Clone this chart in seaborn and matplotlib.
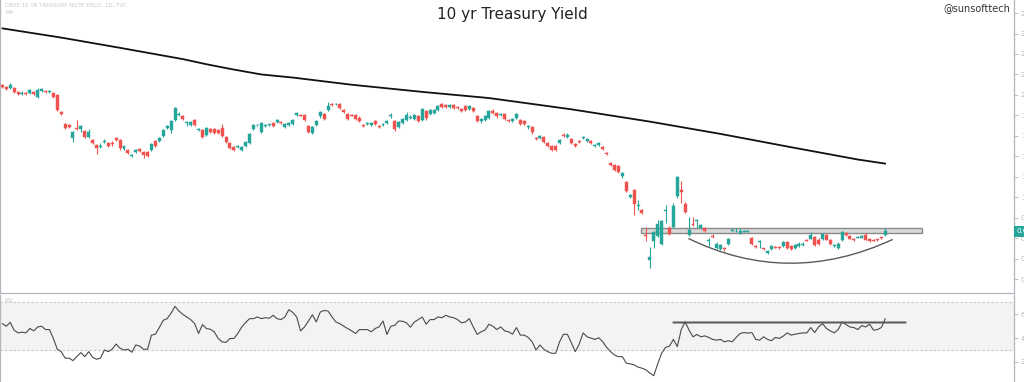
import numpy as np
import pandas as pd
import matplotlib
matplotlib.use("Agg")
import matplotlib.pyplot as plt
import seaborn as sns
from matplotlib.patches import Rectangle, PathPatch
from matplotlib.path import Path

# ---------------- data ----------------
opens = [2.10, 2.08, 2.07, 2.07, 2.03, 2.01, 2.02, 2.02, 2.03, 1.98,
         2.04, 2.04, 2.03, 2.02, 2.00, 1.83, 1.72, 1.71, 1.58, 1.68,
         1.67, 1.65, 1.59, 1.56, 1.51, 1.49, 1.545, 1.53, 1.53, 1.58,
         1.56, 1.47, 1.46, 1.40, 1.44, 1.47, 1.44, 1.44, 1.46, 1.55,
         1.55, 1.60, 1.68, 1.66, 1.76, 1.80, 1.79, 1.73, 1.71, 1.76,
         1.66, 1.66, 1.61, 1.67, 1.67, 1.66, 1.68, 1.59, 1.53, 1.49,
         1.49, 1.46, 1.50, 1.53, 1.67, 1.705, 1.64, 1.70, 1.71, 1.73,
         1.74, 1.74, 1.69, 1.71, 1.72, 1.80, 1.805, 1.80, 1.70, 1.63,
         1.71, 1.79, 1.81, 1.85, 1.91, 1.91, 1.91, 1.85, 1.81, 1.805,
         1.80, 1.78, 1.71, 1.72, 1.71, 1.75, 1.70, 1.71, 1.73, 1.795,
         1.75, 1.69, 1.73, 1.76, 1.78, 1.77, 1.79, 1.76, 1.84, 1.81,
         1.82, 1.85, 1.91, 1.90, 1.88, 1.90, 1.88, 1.86, 1.89, 1.86,
         1.87, 1.79, 1.75, 1.76, 1.78, 1.84, 1.82, 1.80, 1.81, 1.76,
         1.75, 1.78, 1.76, 1.75, 1.69, 1.69, 1.58, 1.58, 1.59, 1.53,
         1.50, 1.50, 1.53, 1.61, 1.59, 1.57, 1.52, 1.55, 1.58, 1.55,
         1.55, 1.50, 1.51, 1.49, 1.43, 1.34, 1.32, 1.31, 1.21, 1.15,
         1.00, 1.07, 0.92, 0.88, 0.635, 0.39, 0.57, 0.62, 0.55, 0.87,
         0.70, 0.71, 1.01, 1.07, 0.94, 0.63, 0.74, 0.77, 0.70, 0.70,
         0.57, 0.62, 0.51, 0.50, 0.505, 0.55, 0.675, 0.67, 0.65, 0.665,
         0.665, 0.60, 0.53, 0.56, 0.505, 0.455, 0.50, 0.52, 0.52, 0.53,
         0.56, 0.53, 0.51, 0.53, 0.535, 0.585, 0.595, 0.61, 0.58, 0.595,
         0.63, 0.58, 0.53, 0.51, 0.585, 0.65, 0.62, 0.59, 0.605, 0.605,
         0.63, 0.595, 0.585, 0.59, 0.61, 0.63]

closes = [2.08, 2.06, 2.10, 2.03, 2.01, 2.02, 2.01, 2.05, 2.01, 2.05,
          2.06, 2.03, 2.04, 1.98, 1.85, 1.81, 1.68, 1.69, 1.64, 1.67,
          1.70, 1.59, 1.64, 1.53, 1.48, 1.50, 1.55, 1.50, 1.52, 1.56,
          1.48, 1.50, 1.43, 1.41, 1.46, 1.45, 1.41, 1.40, 1.52, 1.50,
          1.58, 1.66, 1.70, 1.75, 1.87, 1.81, 1.77, 1.74, 1.74, 1.71,
          1.67, 1.59, 1.68, 1.64, 1.63, 1.63, 1.60, 1.54, 1.48, 1.46,
          1.50, 1.49, 1.54, 1.62, 1.71, 1.71, 1.73, 1.71, 1.715, 1.70,
          1.76, 1.73, 1.72, 1.73, 1.76, 1.82, 1.795, 1.76, 1.64, 1.69,
          1.75, 1.83, 1.77, 1.89, 1.90, 1.915, 1.87, 1.83, 1.77, 1.795,
          1.77, 1.75, 1.70, 1.73, 1.73, 1.72, 1.69, 1.72, 1.75, 1.80,
          1.67, 1.74, 1.77, 1.80, 1.785, 1.80, 1.75, 1.86, 1.78, 1.85,
          1.85, 1.89, 1.88, 1.88, 1.90, 1.87, 1.87, 1.84, 1.85, 1.89,
          1.84, 1.75, 1.77, 1.79, 1.84, 1.82, 1.79, 1.81, 1.77, 1.75,
          1.77, 1.81, 1.72, 1.72, 1.695, 1.64, 1.57, 1.60, 1.54, 1.50,
          1.46, 1.46, 1.56, 1.60, 1.61, 1.53, 1.50, 1.54, 1.59, 1.57,
          1.53, 1.51, 1.53, 1.47, 1.42, 1.32, 1.27, 1.25, 1.24, 1.06,
          1.02, 0.94, 0.93, 0.85, 0.625, 0.42, 0.66, 0.74, 0.77, 0.88,
          0.64, 0.92, 1.20, 1.05, 0.86, 0.68, 0.735, 0.78, 0.73, 0.67,
          0.585, 0.61, 0.55, 0.54, 0.495, 0.59, 0.68, 0.675, 0.67, 0.675,
          0.675, 0.55, 0.52, 0.57, 0.497, 0.48, 0.53, 0.51, 0.505, 0.56,
          0.51, 0.50, 0.54, 0.55, 0.55, 0.575, 0.63, 0.54, 0.55, 0.64,
          0.585, 0.55, 0.535, 0.55, 0.66, 0.63, 0.595, 0.58, 0.61, 0.62,
          0.585, 0.57, 0.575, 0.58, 0.60, 0.67]

highs = [2.11, 2.09, 2.12, 2.08, 2.04, 2.04, 2.03, 2.06, 2.04, 2.07,
         2.07, 2.05, 2.05, 2.03, 2.01, 1.84, 1.73, 1.72, 1.65, 1.76,
         1.71, 1.66, 1.67, 1.57, 1.52, 1.53, 1.57, 1.54, 1.55, 1.59,
         1.57, 1.51, 1.47, 1.42, 1.47, 1.48, 1.45, 1.45, 1.53, 1.56,
         1.59, 1.67, 1.71, 1.76, 1.88, 1.83, 1.80, 1.75, 1.75, 1.77,
         1.68, 1.67, 1.69, 1.68, 1.68, 1.67, 1.72, 1.60, 1.54, 1.50,
         1.51, 1.50, 1.55, 1.63, 1.72, 1.72, 1.74, 1.72, 1.72, 1.74,
         1.77, 1.75, 1.73, 1.74, 1.77, 1.83, 1.81, 1.81, 1.71, 1.70,
         1.76, 1.84, 1.82, 1.93, 1.92, 1.92, 1.92, 1.86, 1.82, 1.81,
         1.81, 1.79, 1.72, 1.74, 1.74, 1.76, 1.71, 1.73, 1.76, 1.82,
         1.76, 1.75, 1.78, 1.83, 1.80, 1.81, 1.80, 1.87, 1.85, 1.86,
         1.86, 1.90, 1.92, 1.91, 1.91, 1.91, 1.89, 1.87, 1.90, 1.90,
         1.88, 1.80, 1.78, 1.80, 1.85, 1.86, 1.83, 1.82, 1.82, 1.77,
         1.78, 1.82, 1.77, 1.76, 1.71, 1.70, 1.59, 1.61, 1.60, 1.54,
         1.51, 1.51, 1.57, 1.63, 1.63, 1.58, 1.53, 1.56, 1.60, 1.58,
         1.56, 1.52, 1.54, 1.50, 1.44, 1.35, 1.33, 1.32, 1.25, 1.16,
         1.03, 1.08, 0.97, 0.89, 0.71, 0.52, 0.67, 0.78, 0.78, 0.93,
         0.72, 0.95, 1.21, 1.16, 0.96, 0.81, 0.81, 0.79, 0.74, 0.71,
         0.60, 0.64, 0.56, 0.55, 0.52, 0.60, 0.70, 0.70, 0.70, 0.685,
         0.68, 0.61, 0.54, 0.58, 0.51, 0.49, 0.54, 0.53, 0.53, 0.575,
         0.57, 0.54, 0.55, 0.56, 0.56, 0.59, 0.66, 0.62, 0.60, 0.65,
         0.64, 0.59, 0.545, 0.56, 0.67, 0.66, 0.63, 0.60, 0.62, 0.63,
         0.65, 0.60, 0.59, 0.595, 0.615, 0.70]

lows = [2.07, 2.05, 2.06, 2.02, 2.00, 2.00, 2.00, 2.01, 2.00, 1.97,
        2.03, 2.02, 2.02, 1.97, 1.84, 1.80, 1.67, 1.68, 1.54, 1.66,
        1.64, 1.58, 1.58, 1.52, 1.42, 1.48, 1.53, 1.49, 1.50, 1.55,
        1.46, 1.46, 1.42, 1.39, 1.43, 1.44, 1.38, 1.39, 1.45, 1.49,
        1.54, 1.59, 1.67, 1.63, 1.75, 1.79, 1.76, 1.70, 1.70, 1.70,
        1.65, 1.58, 1.60, 1.63, 1.62, 1.62, 1.59, 1.53, 1.47, 1.45,
        1.48, 1.45, 1.49, 1.52, 1.66, 1.70, 1.63, 1.69, 1.70, 1.69,
        1.73, 1.72, 1.68, 1.70, 1.71, 1.79, 1.79, 1.75, 1.63, 1.62,
        1.70, 1.78, 1.76, 1.84, 1.89, 1.90, 1.86, 1.82, 1.76, 1.79,
        1.76, 1.74, 1.69, 1.71, 1.70, 1.71, 1.68, 1.70, 1.72, 1.78,
        1.65, 1.68, 1.72, 1.75, 1.77, 1.76, 1.74, 1.75, 1.76, 1.80,
        1.81, 1.84, 1.87, 1.87, 1.87, 1.86, 1.86, 1.83, 1.84, 1.85,
        1.83, 1.74, 1.73, 1.75, 1.77, 1.81, 1.78, 1.79, 1.76, 1.74,
        1.74, 1.77, 1.71, 1.71, 1.67, 1.62, 1.56, 1.57, 1.53, 1.49,
        1.45, 1.45, 1.52, 1.59, 1.58, 1.52, 1.49, 1.53, 1.57, 1.54,
        1.52, 1.49, 1.50, 1.46, 1.41, 1.31, 1.26, 1.24, 1.19, 1.05,
        0.99, 0.83, 0.88, 0.84, 0.57, 0.31, 0.51, 0.61, 0.54, 0.75,
        0.63, 0.70, 0.99, 0.95, 0.85, 0.62, 0.72, 0.70, 0.69, 0.66,
        0.53, 0.60, 0.50, 0.49, 0.48, 0.54, 0.67, 0.66, 0.64, 0.66,
        0.66, 0.54, 0.51, 0.51, 0.49, 0.45, 0.49, 0.505, 0.50, 0.52,
        0.50, 0.49, 0.50, 0.52, 0.53, 0.57, 0.59, 0.53, 0.54, 0.58,
        0.58, 0.54, 0.52, 0.50, 0.57, 0.62, 0.59, 0.57, 0.60, 0.60,
        0.58, 0.56, 0.57, 0.57, 0.59, 0.62]

# moving average read at a set of bar positions
ma_idx = [0, 15, 30, 46, 52, 58, 66, 74, 89, 107, 124, 145, 165, 183, 201, 218, 225]
ma_val = [2.65, 2.56, 2.46, 2.35, 2.30, 2.255, 2.20, 2.17, 2.10, 2.03, 1.97, 1.86, 1.74, 1.62, 1.49, 1.37, 1.33]

rsi = [52.2, 50.0, 53.3, 46.7, 44.4, 45.0, 44.4, 48.1, 46.1, 49.4,
       50.0, 47.2, 47.2, 39.7, 30.6, 28.6, 23.1, 23.1, 21.1, 24.4,
       27.8, 24.4, 28.6, 23.9, 22.2, 23.1, 30.0, 28.6, 30.8, 35.0,
       31.4, 30.0, 30.6, 28.1, 34.2, 33.3, 30.6, 30.6, 42.5, 43.3,
       48.9, 55.0, 56.4, 61.1, 66.7, 62.8, 60.0, 57.8, 55.6, 52.2,
       43.9, 51.4, 48.1, 47.5, 45.3, 39.7, 36.9, 36.4, 39.7, 39.7,
       43.9, 49.4, 53.1, 56.4, 56.4, 57.8, 56.4, 57.2, 56.7, 59.2,
       56.4, 55.6, 57.8, 63.9, 61.7, 57.8, 46.1, 49.4, 54.4, 59.7,
       53.6, 61.9, 63.3, 62.8, 57.8, 53.6, 52.2, 50.0, 48.1, 46.1,
       43.9, 47.2, 47.2, 47.2, 45.3, 48.1, 49.4, 54.4, 43.1, 50.0,
       50.8, 54.4, 54.2, 52.8, 49.2, 53.6, 55.6, 57.8, 51.7, 55.6,
       55.6, 57.8, 57.2, 59.2, 57.8, 57.2, 55.6, 52.8, 53.6, 56.4,
       49.4, 43.1, 45.3, 46.7, 51.7, 50.0, 47.2, 49.4, 46.1, 45.3,
       43.3, 48.9, 42.5, 42.5, 40.6, 36.9, 30.0, 34.2, 30.6, 28.6,
       27.2, 27.2, 36.9, 43.3, 43.1, 36.1, 28.6, 35.0, 44.4, 41.1,
       40.0, 38.9, 40.3, 36.9, 32.2, 28.6, 25.8, 24.4, 24.4, 18.9,
       18.3, 17.5, 15.6, 14.7, 13.3, 10.6, 8.3, 18.3, 27.2, 32.2,
       33.3, 38.9, 32.8, 47.2, 53.6, 46.7, 41.1, 43.1, 41.1, 41.9,
       40.6, 38.9, 38.3, 38.9, 36.9, 37.8, 36.9, 40.6, 43.9, 44.7,
       44.2, 44.7, 38.9, 38.3, 41.1, 38.9, 37.8, 40.6, 39.7, 41.7,
       44.4, 42.5, 43.3, 43.9, 44.4, 44.4, 48.9, 44.7, 49.4, 52.2,
       48.1, 46.1, 44.4, 47.2, 53.6, 51.4, 49.4, 48.9, 47.2, 50.6,
       49.4, 51.7, 46.7, 47.2, 48.9, 56.4]

price_ticks = [0.2, 0.4, 0.6, 0.8, 1.0, 1.2, 1.4, 1.6, 1.8, 2.0, 2.2, 2.4, 2.6, 2.8]
rsi_ticks = [20, 40, 60]

# drawn annotations
band_x = (162.8, 234.3)
band_y = (0.650, 0.705)
arc_pts = [(174.8, 0.60), (200.4, 0.12), (226.9, 0.59)]
rsi_level = 53.9
rsi_level_x = (171, 230)

title = "10 yr Treasury Yield"
handle = "@sunsofttech"
source = "CBOE 10 YR TREASURY NOTE YIELD, 1D, TVC"

# ---------------- plotting ----------------
sns.set_theme(style="white")
plt.rcParams['font.family'] = ['DejaVu Sans']

UP, DOWN = "#26a69a", "#ef5350"
AXC = "#b2b5be"

n = len(closes)
df = pd.DataFrame({"i": np.arange(n), "o": opens, "h": highs, "l": lows, "c": closes})
df["up"] = df["c"] >= df["o"]
df["col"] = np.where(df["up"], UP, DOWN)

W, H = 1024, 382
fig = plt.figure(figsize=(W / 100, H / 100), dpi=100)
ax = fig.add_axes([0.0, (H - 293) / H, 1014 / W, 293 / H])
ax2 = fig.add_axes([0.0, 0.0, 1014 / W, (H - 295) / H])

XL = (-0.6, 257.8)

# band annotation
ax.add_patch(Rectangle((band_x[0], band_y[0]), band_x[1] - band_x[0], band_y[1] - band_y[0],
                       facecolor="#d9d9d9", edgecolor="#8a8a8a", lw=1.0, zorder=1))

# candles
ax.vlines(df["i"], df["l"], df["h"], colors=df["col"], lw=0.8, zorder=2)
body_h = np.maximum((df["c"] - df["o"]).abs(), 0.006)
ax.bar(df["i"], body_h, bottom=np.minimum(df["o"], df["c"]), width=0.76,
       color=df["col"], edgecolor=df["col"], linewidth=0.3, zorder=3)

# moving average
sns.lineplot(x=ma_idx, y=ma_val, ax=ax, color="#111111", lw=1.3, zorder=4)

# arc
path = Path(arc_pts, [Path.MOVETO, Path.CURVE3, Path.CURVE3])
ax.add_patch(PathPatch(path, facecolor="none", edgecolor="#5a5a5a", lw=1.0, zorder=4))

ax.set_xlim(*XL)
ax.set_ylim(0.067, 2.927)
ax.yaxis.tick_right()
ax.set_yticks(price_ticks)
ax.set_yticklabels([f"{t:.1f}" for t in price_ticks])
ax.tick_params(axis="y", right=True, length=3, width=0.6, color=AXC, labelsize=5,
               labelcolor="#b8b8b8", pad=2)
ax.set_xticks([])
ax.set_xlabel("")
ax.set_ylabel("")
ax.spines["top"].set_visible(False)
for s in ["left", "right", "bottom"]:
    ax.spines[s].set_color(AXC)
    ax.spines[s].set_linewidth(0.9)

# last price label
ax.annotate(f"{closes[-1]:.2f}", xy=(1.0, closes[-1]), xycoords=("axes fraction", "data"),
            xytext=(1.5, 0), textcoords="offset points", ha="left", va="center",
            fontsize=5, color="white", annotation_clip=False, zorder=10,
            bbox=dict(boxstyle="square,pad=0.35", fc=UP, ec="none"))

# RSI panel
ax2.axhspan(30, 70, color="#f3f3f3", zorder=0)
for lv in (30, 70):
    ax2.axhline(lv, color="#c9c9c9", lw=0.8, ls=(0, (2, 2)), zorder=1)
sns.lineplot(x=np.arange(len(rsi)), y=rsi, ax=ax2, color="#4a4a4a", lw=0.8, zorder=3)
ax2.plot(rsi_level_x, [rsi_level - 0.6] * 2, color="#bdbdbd", lw=2.2, zorder=2)
ax2.plot(rsi_level_x, [rsi_level, rsi_level], color="#555555", lw=1.0, zorder=4)
ax2.set_xlim(*XL)
ax2.set_ylim(3.05, 76.3)
ax2.yaxis.tick_right()
ax2.set_yticks(rsi_ticks)
ax2.tick_params(axis="y", right=True, length=3, width=0.6, color=AXC, labelsize=5,
                labelcolor="#b8b8b8", pad=2)
ax2.set_xticks([])
ax2.set_xlabel("")
ax2.set_ylabel("")
ax2.spines["top"].set_visible(False)
ax2.spines["bottom"].set_visible(False)
for s in ["left", "right"]:
    ax2.spines[s].set_color(AXC)
    ax2.spines[s].set_linewidth(0.9)
ax2.text(0.004, 0.96, "RSI", transform=ax2.transAxes, fontsize=4, color="#c8c8c8",
         ha="left", va="top")

# texts
fig.text(0.5, 1 - 14 / H, title, ha="center", va="center", fontsize=11, color="#222222")
fig.text(1010 / W, 1 - 8 / H, handle, ha="right", va="center", fontsize=7, color="#333333")
fig.text(0.005, 1 - 5 / H, source, ha="left", va="center", fontsize=4, color="#c8c8c8")
fig.text(0.005, 1 - 13 / H, "MA", ha="left", va="center", fontsize=4, color="#c8c8c8")

fig.savefig("out.png", dpi=100, facecolor="white")
